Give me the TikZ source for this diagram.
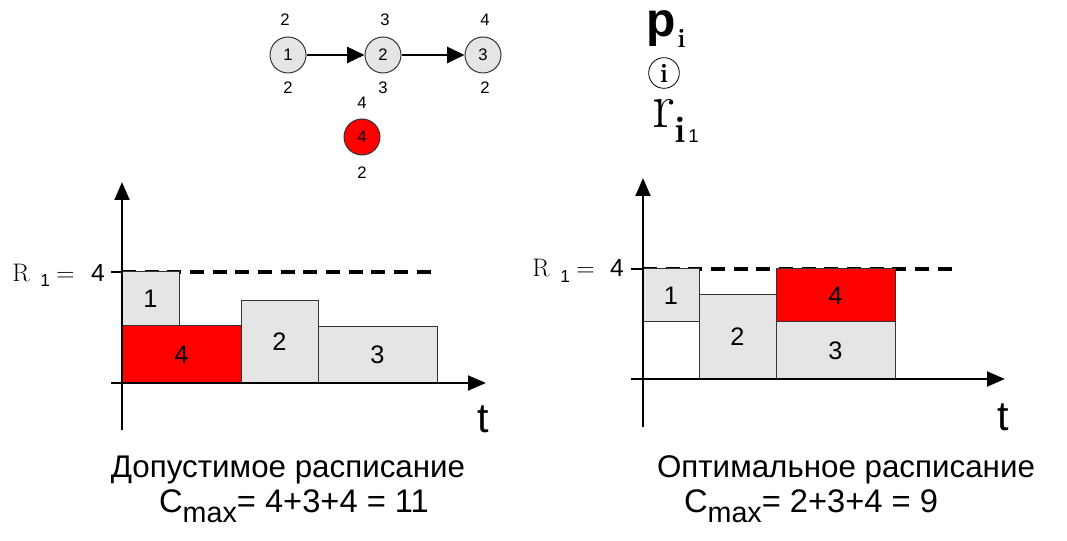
\documentclass[tikz,border=0pt]{standalone}
\usepackage{fontspec}
\setsansfont{Liberation Sans}
\usetikzlibrary{arrows.meta}
\definecolor{boxgray}{HTML}{E5E5E5}
\definecolor{edgegray}{HTML}{333333}
\begin{document}
\begin{tikzpicture}[x=0.75pt,y=-0.75pt, font=\sffamily,
 job/.style={draw=edgegray, fill=boxgray, line width=0.75pt},
 redjob/.style={draw=edgegray, fill=red, line width=0.75pt},
 joblabel/.style={font=\sffamily\fontsize{19}{19}\selectfont},
 axisline/.style={line width=2.2pt, -{Triangle[length=13.5pt,width=11pt]}},
 rdash/.style={line width=2.3pt, dash pattern=on 10.5pt off 6.5pt},
 rtick/.style={line width=2.2pt},
 gnode/.style={circle, draw=edgegray, fill=boxgray, minimum size=27pt, inner sep=0pt, line width=0.75pt, font=\sffamily\fontsize{12.5}{12.5}\selectfont},
 gredn/.style={gnode, fill=red},
 glabel/.style={font=\sffamily\fontsize{12.5}{12.5}\selectfont, inner sep=0pt},
 garrow/.style={line width=1.9pt, -{Triangle[length=13pt,width=12pt]}},
 titletext/.style={font=\sffamily\fontsize{23.5}{23.5}\selectfont, anchor=base, inner sep=0pt},
 cmaxtext/.style={font=\sffamily\fontsize{24.5}{24.5}\selectfont, anchor=base, inner sep=0pt},
 tlabel/.style={font=\sffamily\fontsize{31}{31}\selectfont, inner sep=0pt},
 rsym/.style={font=\rmfamily\fontsize{19}{19}\selectfont, anchor=base west, inner sep=0pt},
 rsub/.style={font=\sffamily\fontsize{13}{13}\selectfont, anchor=base west, inner sep=0pt},
 rval/.style={font=\sffamily\fontsize{18.5}{18.5}\selectfont, anchor=base east, inner sep=0pt},
]
\useasboundingbox (0,0) rectangle (1067,541);

% ---------- graph ----------
\node[gnode] (n1) at (288,55) {1};
\node[gnode] (n2) at (383,55) {2};
\node[gnode] (n3) at (483,55) {3};
\node[gredn] (n4) at (362,137) {4};
\draw[garrow] (n1) -- (n2);
\draw[garrow] (n2) -- (n3);
\node[glabel] (n1p) at (285,20) {2};
\node[glabel] (n1r) at (288,88) {2};
\node[glabel] (n2p) at (385,20) {3};
\node[glabel] (n2r) at (383,88) {3};
\node[glabel] (n3p) at (485,20) {4};
\node[glabel] (n3r) at (485,88) {2};
\node[glabel] (n4p) at (362,103) {4};
\node[glabel] (n4r) at (362,173) {2};

% ---------- legend ----------
\node[anchor=base west, inner sep=0pt, font=\sffamily\bfseries\fontsize{36}{36}\selectfont] (legp) at (646,37) {p};
\node[anchor=base west, inner sep=0pt, font=\rmfamily\bfseries\fontsize{20}{20}\selectfont] (legpi) at (677,48) {i};
\node[circle, draw, line width=0.6pt, minimum size=23pt, inner sep=0pt, font=\rmfamily\bfseries\fontsize{20}{20}\selectfont] (legci) at (664,73) {i};
\node[anchor=base west, inner sep=0pt, font=\rmfamily\fontsize{48}{48}\selectfont] (legr) at (652,128) {r};
\node[anchor=base west, inner sep=0pt, font=\rmfamily\bfseries\fontsize{28}{28}\selectfont] (legri) at (674,143) {i};
\node[anchor=base west, inner sep=0pt, font=\sffamily\fontsize{14}{14}\selectfont] (legr1) at (688,143) {1};

% ---------- left chart ----------
\coordinate (Ly0) at (122,430); \coordinate (Ly1) at (122,182);
\coordinate (Lx0) at (111,383); \coordinate (Lx1) at (486,383);
\coordinate (Lt0) at (111,272); \coordinate (Lr) at (122,272); \coordinate (Ld1) at (432,272);
\draw[rdash] (Lr) -- (Ld1);
\draw[job] (122,272) rectangle (179,326) node[midway, joblabel] (L1) {1};
\draw[redjob] (122,326) rectangle (241,383) node[midway, joblabel] (L4) {4};
\draw[job] (241,301) rectangle (318,383) node[midway, joblabel] (L2) {2};
\draw[job] (318,327) rectangle (437,383) node[midway, joblabel] (L3) {3};
\draw[axisline] (Ly0) -- (Ly1);
\draw[axisline] (Lx0) -- (Lx1);
\draw[rtick] (Lt0) -- (Lr);
\node[rsym] (LR) at (12,282) {R};
\node[rsub] (LRs) at (40,287) {1};
\node[rsym] (LReq) at (56,282) {=};
\node[rval] (LRv) at (105,282) {4};
\node[tlabel] (Lt) at (483,419) {t};

% ---------- right chart ----------
\coordinate (Ry0) at (643,427); \coordinate (Ry1) at (643,178);
\coordinate (Rx0) at (631,379); \coordinate (Rx1) at (1005,379);
\coordinate (Rt0) at (631,269); \coordinate (Rr) at (643,269); \coordinate (Rd1) at (952,269);
\draw[rdash] (Rr) -- (Rd1);
\draw[job] (643,269) rectangle (699,322) node[midway, joblabel] (R1) {1};
\draw[job] (699,295) rectangle (776,379) node[midway, joblabel] (R2) {2};
\draw[job] (776,322) rectangle (895,379) node[midway, joblabel] (R3) {3};
\draw[redjob] (776,269) rectangle (895,322) node[midway, joblabel] (R4) {4};
\draw[axisline] (Ry0) -- (Ry1);
\draw[axisline] (Rx0) -- (Rx1);
\draw[rtick] (Rt0) -- (Rr);
\node[rsym] (RR) at (532,277) {R};
\node[rsub] (RRs) at (560,283) {1};
\node[rsym] (RReq) at (576,277) {=};
\node[rval] (RRv) at (624,277) {4};
\node[tlabel] (Rt) at (1003,417) {t};

% ---------- captions ----------
\node[titletext] (T1) at (288,477) {Допустимое расписание};
\node[cmaxtext] (C1) at (294,512) {C\raisebox{-7.5pt}{\fontsize{21.5}{21.5}\selectfont max}= 4+3+4 = 11};
\node[titletext] (T2) at (846,477) {Оптимальное расписание};
\node[cmaxtext] (C2) at (811,512) {C\raisebox{-7.5pt}{\fontsize{21.5}{21.5}\selectfont max}= 2+3+4 = 9};
\end{tikzpicture}
\end{document}
